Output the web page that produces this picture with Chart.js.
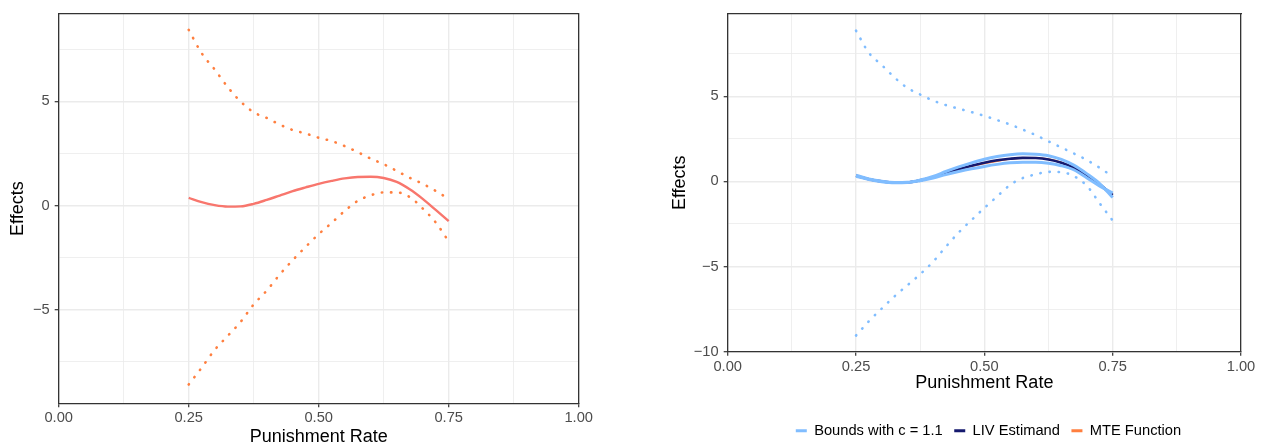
<!DOCTYPE html>
<html><head><meta charset="utf-8">
<script src="https://cdn.jsdelivr.net/npm/chart.js@4.4.1/dist/chart.umd.min.js"></script>
<style>
html,body{margin:0;padding:0;width:1265px;height:444px;overflow:hidden;background:#fff;}
#c1{position:absolute;left:0;top:0;}
#c2{position:absolute;left:640px;top:0;}
</style></head><body>
<canvas id="c1" width="640" height="460"></canvas>
<canvas id="c2" width="697" height="460"></canvas>
<script>
// ---------- data ----------
const xs = [0.25,0.275,0.3,0.325,0.35,0.375,0.4,0.425,0.45,0.475,0.5,0.525,0.55,0.575,0.6,0.625,0.65,0.675,0.7,0.725,0.75];

// left panel
const leftUpperBound = [8.42,7.30,6.52,5.68,4.98,4.47,4.20,3.88,3.62,3.45,3.25,3.09,2.85,2.56,2.25,1.98,1.66,1.33,1.04,0.70,0.31];
const leftLowerBound = [-8.58,-7.77,-6.92,-6.25,-5.57,-4.74,-4.08,-3.31,-2.62,-1.98,-1.37,-0.83,-0.26,0.22,0.49,0.63,0.63,0.41,-0.14,-0.81,-1.72];
const mteFunction = [0.37,0.16,0.02,-0.05,-0.04,0.08,0.27,0.48,0.69,0.87,1.04,1.18,1.30,1.37,1.38,1.32,1.13,0.78,0.32,-0.21,-0.75];

// right panel
const rightUpperDotted = [8.85,7.55,6.84,6.10,5.49,5.10,4.75,4.48,4.27,4.07,3.85,3.60,3.34,3.04,2.72,2.35,1.99,1.63,1.25,0.79,0.29];
const rightLowerDotted = [-9.05,-8.21,-7.47,-6.75,-6.10,-5.45,-4.72,-3.84,-3.00,-2.27,-1.56,-0.88,-0.21,0.20,0.41,0.56,0.54,0.30,-0.27,-1.30,-2.30];
const livEstimand = [0.33,0.13,0.00,-0.07,-0.06,0.06,0.24,0.50,0.72,0.92,1.10,1.24,1.33,1.38,1.37,1.29,1.10,0.80,0.33,-0.19,-0.80];
const boundUpper = [0.36,0.15,0.01,-0.06,-0.05,0.08,0.29,0.58,0.85,1.09,1.30,1.46,1.57,1.62,1.60,1.51,1.29,0.94,0.44,-0.14,-0.95];
const boundLower = [0.30,0.11,-0.02,-0.08,-0.07,0.04,0.20,0.40,0.58,0.74,0.88,1.00,1.09,1.13,1.13,1.07,0.92,0.67,0.20,-0.28,-0.68];

const xTicks = [0,0.125,0.25,0.375,0.5,0.625,0.75,0.875,1];
const yTicksLeft = [-7.5,-5,-2.5,0,2.5,5,7.5];
const yTicksRight = [-10,-7.5,-5,-2.5,0,2.5,5,7.5];
const legendLabels = ['Bounds with c = 1.1','LIV Estimand','MTE Function'];

// ---------- styles ----------
const FONT = "'Liberation Sans', Arial, Helvetica, sans-serif";
const C_LIGHT = '#80BDFF', C_NAVY = '#15196E', C_ORANGE = '#FF7F3F', C_SALMON = '#F8766D';
const GRID = '#EBEBEB', FRAME = '#333333', TICKTXT = '#4D4D4D';

const pts = arr => arr.map((y,i)=>({x:xs[i], y}));
const isMajorX = v => Math.abs(v*4 - Math.round(v*4)) < 1e-9;
const isMajorY = v => Math.abs(v/5 - Math.round(v/5)) < 1e-9;
const fmtY = v => v < 0 ? '\u2212' + Math.abs(v) : String(v);

function dotted(data, color){
  return {data: pts(data), borderColor: color, borderWidth: 2.6, borderDash:[0.4,8.8],
          borderCapStyle:'round', pointRadius:0, fill:false, cubicInterpolationMode:'monotone'};
}
function solid(data, color, w){
  return {data: pts(data), borderColor: color, borderWidth: w, pointRadius:0, fill:false,
          cubicInterpolationMode:'monotone', borderCapStyle:'butt'};
}

function xScale(height, titlePadBottom){
  return {
    type:'linear', position:'bottom', min:0, max:1,
    afterBuildTicks: s => { s.ticks = xTicks.map(v=>({value:v})); },
    afterFit: s => { s.height = height; },
    ticks:{ autoSkip:false, maxRotation:0, padding:2, color:TICKTXT, font:{family:FONT,size:14.7},
            callback: v => isMajorX(v) ? v.toFixed(2) : '' },
    grid:{ drawTicks:true, tickLength:4,
           color: c => GRID, lineWidth: c => (c.tick && isMajorX(c.tick.value)) ? 1.4 : 0.8,
           tickColor: c => (c.tick && isMajorX(c.tick.value)) ? FRAME : 'rgba(0,0,0,0)', tickWidth:1.2 },
    border:{ display:true, color:FRAME, width:1.3 },
    title:{ display:true, text:'Punishment Rate', color:'#000', font:{family:FONT,size:18}, padding:{top:0,bottom:titlePadBottom} }
  };
}
function yScale(min, max, ticks, width, titlePadTop){
  return {
    type:'linear', position:'left', min, max,
    afterBuildTicks: s => { s.ticks = ticks.map(v=>({value:v})); },
    afterFit: s => { s.width = width; },
    ticks:{ autoSkip:false, padding:5, color:TICKTXT, font:{family:FONT,size:14.7},
            callback: v => isMajorY(v) ? fmtY(v) : '' },
    grid:{ drawTicks:true, tickLength:4,
           color: c => GRID, lineWidth: c => (c.tick && isMajorY(c.tick.value)) ? 1.4 : 0.8,
           tickColor: c => (c.tick && isMajorY(c.tick.value)) ? FRAME : 'rgba(0,0,0,0)', tickWidth:1.2 },
    border:{ display:true, color:FRAME, width:1.3 },
    title:{ display:true, text:'Effects', color:'#000', font:{family:FONT,size:18}, padding:{top:titlePadTop,bottom:0} }
  };
}
function dummyTop(){
  return { type:'linear', position:'top', min:0, max:1, afterFit: s=>{ s.height = 0; },
           ticks:{display:false}, grid:{display:false, drawTicks:false}, border:{display:true,color:FRAME,width:1.3} };
}
function dummyRight(width){
  return { type:'linear', position:'right', min:0, max:1, afterFit: s=>{ s.width = width; },
           ticks:{display:false}, grid:{display:false, drawTicks:false}, border:{display:true,color:FRAME,width:1.3} };
}

// ---------- left chart ----------
new Chart(document.getElementById('c1'), {
  type:'line',
  data:{ datasets:[
    solid(mteFunction, C_SALMON, 2.4),
    dotted(leftUpperBound, C_ORANGE),
    dotted(leftLowerBound, C_ORANGE)
  ]},
  options:{
    responsive:false, animation:false, devicePixelRatio:1,
    layout:{ padding:{left:0, top:10, right:0, bottom:0} },
    plugins:{ legend:{display:false}, tooltip:{enabled:false} },
    scales:{
      x: xScale(56.7, 12.2),
      y: yScale(-9.48, 9.19, yTicksLeft, 58.7, 7.2),
      x2: dummyTop(),
      y2: dummyRight(61.3)
    }
  }
});

// ---------- right chart ----------
// first dataset is drawn on top: bounds over LIV over MTE
const legendColors = [C_LIGHT, C_NAVY, C_ORANGE];
new Chart(document.getElementById('c2'), {
  type:'line',
  data:{ datasets:[
    solid(boundUpper, C_LIGHT, 3),
    solid(boundLower, C_LIGHT, 3),
    solid(livEstimand, C_NAVY, 2.6),
    solid(mteFunction, C_ORANGE, 1.2),
    dotted(rightUpperDotted, C_LIGHT),
    dotted(rightLowerDotted, C_LIGHT)
  ]},
  options:{
    responsive:false, animation:false, devicePixelRatio:1,
    layout:{ padding:{left:0, top:8.5, right:0, bottom:11.95} },
    plugins:{
      tooltip:{enabled:false},
      legend:{
        display:true, position:'bottom', align:'center',
        labels:{
          boxWidth:11, boxHeight:3, padding:11.5, color:'#000', font:{family:FONT, size:14.7},
          generateLabels: () => legendLabels.map((t,i)=>({
            text:t, fillStyle:legendColors[i], strokeStyle:legendColors[i], lineWidth:0, hidden:false, datasetIndex:i
          }))
        }
      }
    },
    scales:{
      x: xScale(60.15, 18),
      y: yScale(-10, 9.84, yTicksRight, 87.7, 29.2),
      x2: dummyTop(),
      y2: dummyRight(96)
    }
  }
});
</script>
</body></html>
